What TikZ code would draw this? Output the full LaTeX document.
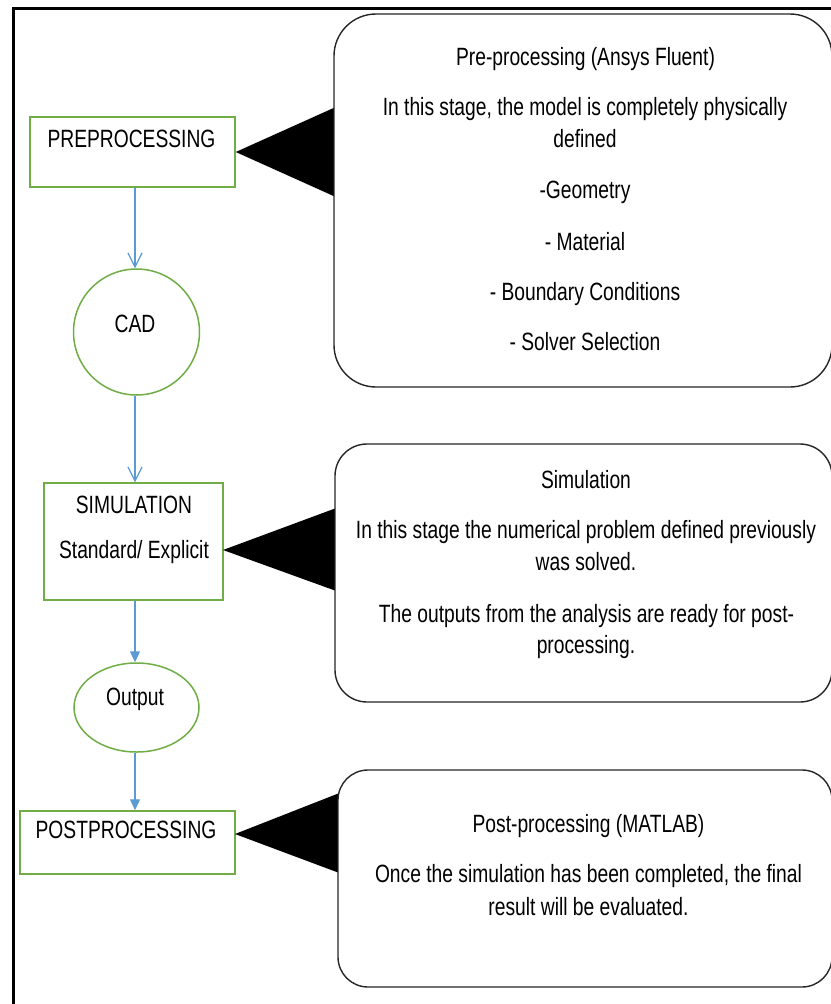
\documentclass[tikz,border=0pt]{standalone}
\usepackage{fontspec}
\setmainfont{Liberation Sans}[FakeStretch=0.77]
\usetikzlibrary{arrows.meta,shapes.geometric}
\definecolor{flowgreen}{RGB}{112,173,71}
\definecolor{flowblue}{RGB}{91,155,213}
\begin{document}
\begin{tikzpicture}[x=1pt,y=-1pt,
  txt/.style={inner sep=0pt, anchor=base, font=\fontsize{25}{31}\selectfont},
  gbox/.style={draw=flowgreen, line width=1.5pt, rectangle, inner sep=0pt},
  gell/.style={draw=flowgreen, line width=1.5pt, ellipse, inner sep=0pt},
  callout/.style={draw=black!85, line width=1.4pt, fill=white, rectangle, inner sep=0pt},
  openarr/.style={draw=flowblue, line width=1.2pt, -{Straight Barb[length=14pt,width=14pt]}},
  fillarr/.style={draw=flowblue, line width=1.2pt, -{Triangle[length=11pt,width=10pt]}},
  pointer/.style={fill=black}
]
\useasboundingbox (0,0) rectangle (830,1004);
% outer frame
\draw[line width=3.4pt] (13.4,1012) -- (13.4,8.4) -- (840,8.4);

% flow shapes
\node[gbox, minimum width=205pt, minimum height=70pt] (pre) at (132.5,152) {};
\node[gell, minimum width=126pt, minimum height=126pt] (cad) at (136.5,332) {};
\node[gbox, minimum width=179pt, minimum height=117pt] (sim) at (133.5,541.5) {};
\node[gell, minimum width=125pt, minimum height=89pt] (out) at (136.5,707.5) {};
\node[gbox, minimum width=215pt, minimum height=63pt] (post) at (127.5,842.5) {};

\node[txt] (preT) at (131.5,147) {PREPROCESSING};
\node[txt] (cadT) at (135,332) {CAD};
\node[txt] (simT1) at (134,513) {SIMULATION};
\node[txt] (simT2) at (134,558) {Standard/ Explicit};
\node[txt] (outT) at (135,705) {Output};
\node[txt] (postT) at (126,838) {POSTPROCESSING};

% connectors
\coordinate (col) at (135,0);
\draw[openarr] (pre.south -| col) -- (cad.north -| col);
\draw[openarr] (cad.south -| col) -- (sim.north -| col);
\draw[fillarr] (sim.south -| col) -- (out.north -| col);
\draw[fillarr] (out.south -| col) -- (post.north -| col);

% pointers
\coordinate (p1a) at (338,106);
\coordinate (p1b) at (338,198);
\fill[pointer] (pre.east) -- (p1a) -- (p1b) -- cycle;
\coordinate (p2apex) at (223,550);
\coordinate (p2a) at (339,507);
\coordinate (p2b) at (339,592);
\fill[pointer] (p2apex) -- (p2a) -- (p2b) -- cycle;
\coordinate (p3apex) at (235,834);
\coordinate (p3a) at (342,792);
\coordinate (p3b) at (342,874);
\fill[pointer] (p3apex) -- (p3a) -- (p3b) -- cycle;

% callouts
\node[callout, rounded corners=42pt, minimum width=498pt, minimum height=373pt] (c1) at (583,200.5) {};
\node[callout, rounded corners=32pt, minimum width=497pt, minimum height=258pt] (c2) at (583.5,573) {};
\node[callout, rounded corners=30pt, minimum width=494pt, minimum height=217pt] (c3) at (585,878.5) {};

\node[txt] (c1a) at (585.5,65) {Pre-processing (Ansys Fluent)};
\node[txt] (c1b) at (585,115) {In this stage, the model is completely physically};
\node[txt] (c1c) at (585,147) {defined};
\node[txt] (c1d) at (585,198) {-Geometry};
\node[txt] (c1e) at (585,250) {- Material};
\node[txt] (c1f) at (585,300) {- Boundary Conditions};
\node[txt] (c1g) at (585,350) {- Solver Selection};

\node[txt] (c2a) at (586,488) {Simulation};
\node[txt] (c2b) at (586,538) {In this stage the numerical problem defined previously};
\node[txt] (c2c) at (586,570) {was solved.};
\node[txt] (c2d) at (586.5,622) {The outputs from the analysis are ready for post-};
\node[txt] (c2e) at (586,653) {processing.};

\node[txt] (c3a) at (588.5,832) {Post-processing (MATLAB)};
\node[txt] (c3b) at (588.5,882) {Once the simulation has been completed, the final};
\node[txt] (c3c) at (588.5,915) {result will be evaluated.};
\end{tikzpicture}
\end{document}
